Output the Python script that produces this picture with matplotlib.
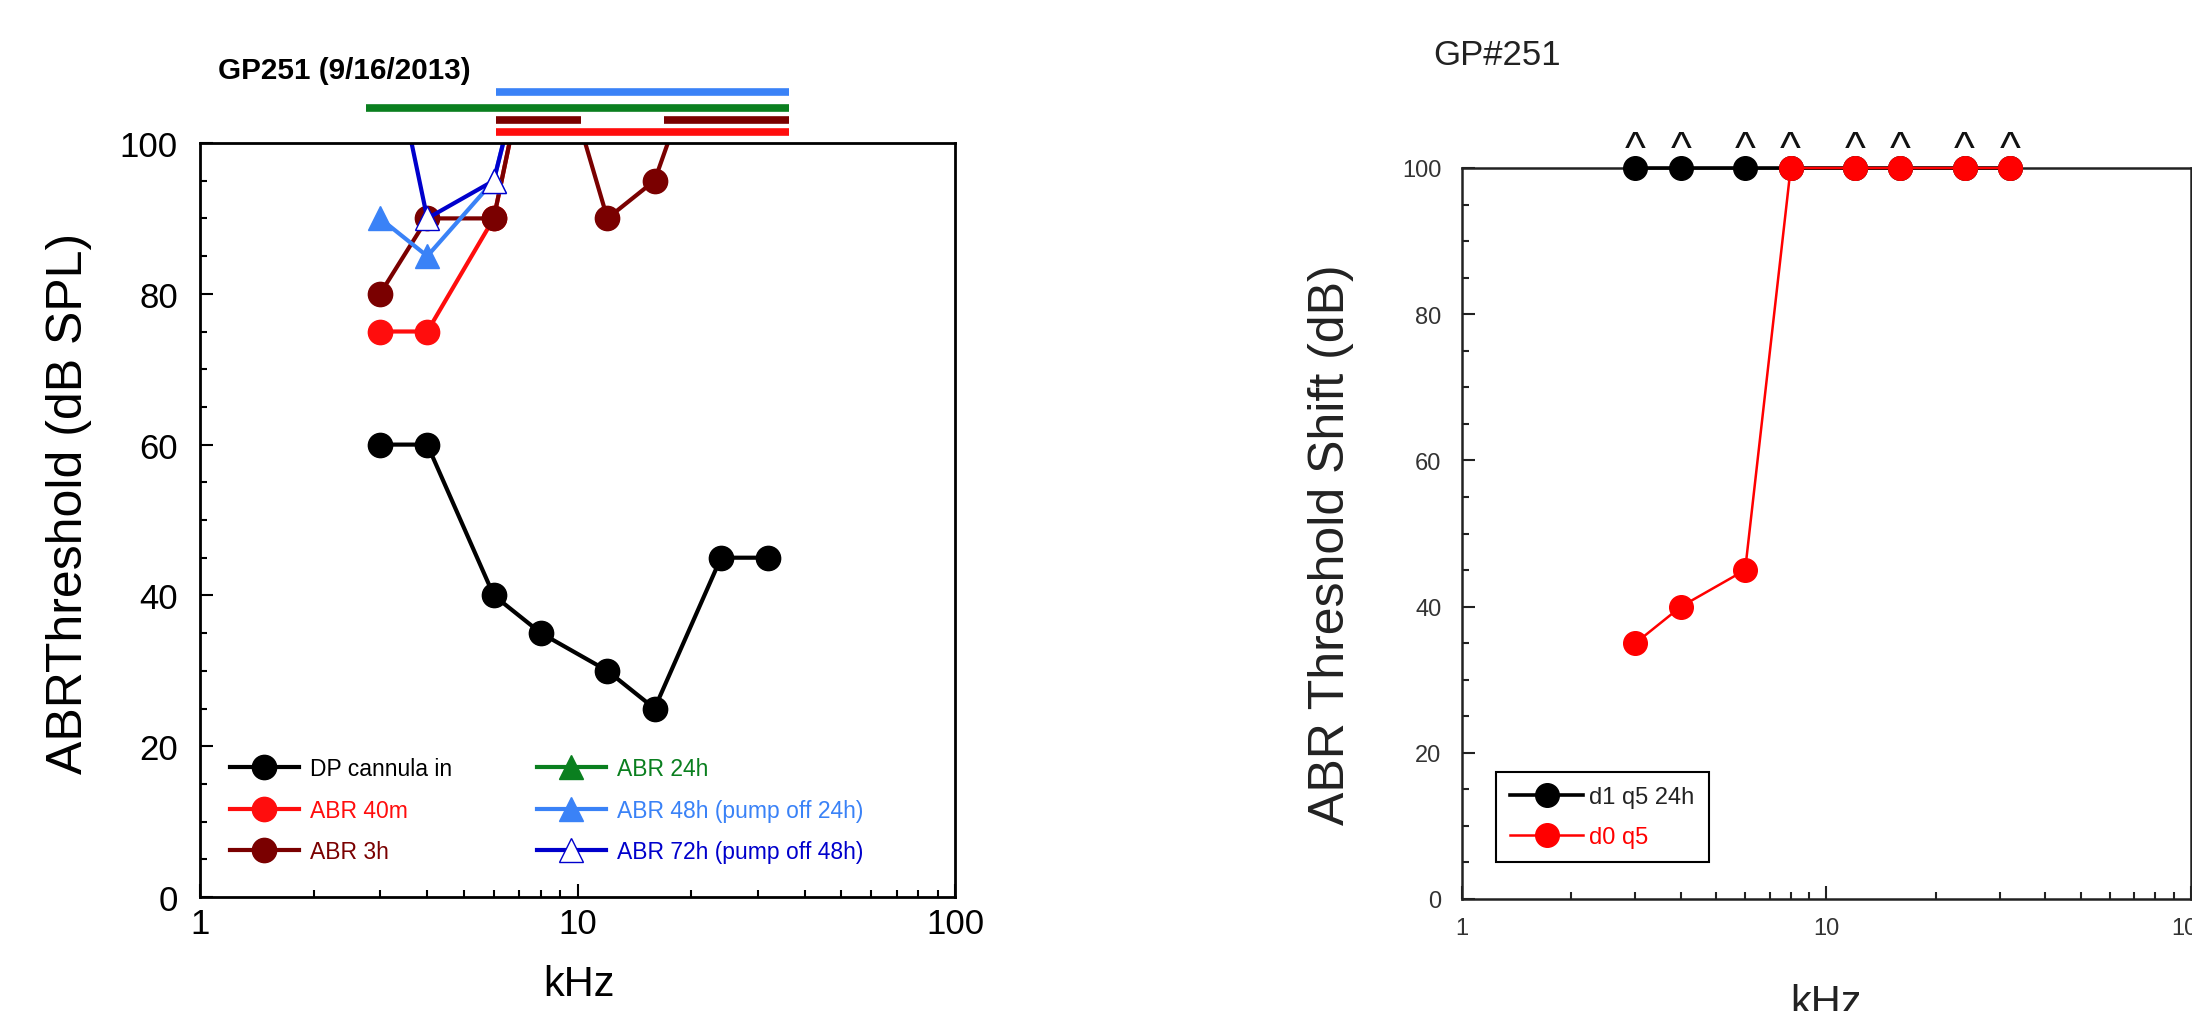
import matplotlib
matplotlib.use('Agg')
import matplotlib.pyplot as plt
from matplotlib.ticker import MultipleLocator, NullFormatter, LogLocator, FixedLocator, FixedFormatter

plt.rcParams['font.family'] = ['Liberation Sans', 'DejaVu Sans']

# ---------------- data: left panel ----------------
freqs = [3, 4, 6, 8, 12, 16, 24, 32]
dp_cannula_in = [60, 60, 40, 35, 30, 25, 45, 45]
abr_40m = [75, 75, 90, 120, 120, 120, 120, 120]
abr_3h = [80, 90, 90, 120, 90, 95, 120, 120]
abr_24h = [120, 120, 120, 120, 120, 120, 120, 120]
abr_48h = [90, 85, 95, 120, 120, 120, 120, 120]
abr_72h = [120, 90, 95, 120, 120, 120, 120, 120]

# "no response" bars drawn above the axis (start kHz, end kHz)
nr_40m = [(6.1, 36.3)]
nr_3h = [(6.1, 10.2), (16.9, 36.3)]
nr_24h = [(2.75, 36.3)]
nr_48h = [(6.1, 36.3)]
nr_levels = {'40m': 101.5, '3h': 103.0, '24h': 104.6, '48h': 106.7}

x_ticks = [1, 10, 100]
x_tick_labels = ['1', '10', '100']
y_ticks = [0, 20, 40, 60, 80, 100]
y_tick_labels = ['0', '20', '40', '60', '80', '100']

# ---------------- data: right panel ----------------
shift_freqs = [3, 4, 6, 8, 12, 16, 24, 32]
d1_q5_24h = [100, 100, 100, 100, 100, 100, 100, 100]
d0_q5 = [35, 40, 45, 100, 100, 100, 100, 100]

C_BLACK = 'black'
C_RED = '#ff0d0d'
C_DRED = '#7a0000'
C_GREEN = '#0a7f1f'
C_LBLUE = '#3a82f7'
C_DBLUE = '#0000cc'

W, H = 2192, 1012
fig = plt.figure(figsize=(W / 100, H / 100), dpi=100)

def px_axes(x0, x1, ytop, ybot):
    return fig.add_axes([x0 / W, 1 - ybot / H, (x1 - x0) / W, (ybot - ytop) / H])

# ================= left panel =================
ax = px_axes(200, 955, 144, 898)
lw = 3.0
ms = 17.5
ax.plot(freqs, dp_cannula_in, '-o', color=C_BLACK, lw=lw, ms=ms, label='DP cannula in')
ax.plot(freqs, abr_40m, '-o', color=C_RED, lw=lw, ms=ms, label='ABR 40m')
ax.plot(freqs, abr_3h, '-o', color=C_DRED, lw=lw, ms=ms, label='ABR 3h')
ax.plot(freqs, abr_24h, '-^', color=C_GREEN, lw=lw, ms=17, label='ABR 24h')
ax.plot(freqs, abr_48h, '-^', color=C_LBLUE, lw=lw, ms=17, label='ABR 48h (pump off 24h)')
ax.plot(freqs, abr_72h, '-^', color=C_DBLUE, lw=lw, ms=17, mfc='white',
        mec=C_DBLUE, mew=1.0, label='ABR 72h (pump off 48h)')

for segs, key, col in [(nr_40m, '40m', C_RED), (nr_3h, '3h', C_DRED),
                       (nr_24h, '24h', C_GREEN), (nr_48h, '48h', C_LBLUE)]:
    for a, b in segs:
        ax.hlines(nr_levels[key], a, b, colors=col, lw=5.5, clip_on=False, capstyle='butt')

ax.set_xscale('log')
ax.set_xlim(1, 100)
ax.set_ylim(0, 100)
ax.xaxis.set_major_locator(FixedLocator(x_ticks))
ax.xaxis.set_major_formatter(FixedFormatter(x_tick_labels))
ax.xaxis.set_minor_locator(LogLocator(base=10, subs=[2, 3, 4, 5, 6, 7, 8, 9]))
ax.xaxis.set_minor_formatter(NullFormatter())
ax.yaxis.set_major_locator(FixedLocator(y_ticks))
ax.yaxis.set_major_formatter(FixedFormatter(y_tick_labels))
ax.yaxis.set_minor_locator(MultipleLocator(5))
ax.tick_params(which='both', direction='in', top=False, right=False, width=1.5)
ax.tick_params(which='major', length=9.5, labelsize=25)
ax.tick_params(which='minor', length=5)
ax.tick_params(axis='y', pad=16)
ax.tick_params(axis='x', pad=7)
for s in ax.spines.values():
    s.set_linewidth(2.0)

leg = ax.legend(loc='upper left', bbox_to_anchor=(0.0397, 0.186), ncol=2,
                frameon=False, fontsize=16.5, handlelength=3.0, handletextpad=0.5,
                columnspacing=3.7, labelspacing=0.82, borderpad=0, borderaxespad=0,
                numpoints=1)
for txt, line in zip(leg.get_texts(), leg.get_lines()):
    txt.set_color(line.get_color())

fig.text(218 / W, 1 - 79 / H, 'GP251 (9/16/2013)', fontsize=21.3, fontweight='bold',
         ha='left', va='baseline')
fig.text(69 / W, 1 - 503 / H, 'ABRThreshold (dB SPL)', fontsize=36, rotation=90,
         ha='center', va='center')
fig.text(579 / W, 1 - 996 / H, 'kHz', fontsize=30, ha='center', va='baseline')

# ================= right panel =================
ax2 = px_axes(1461.5, 2190.5, 169, 900)
ax2.plot(shift_freqs, d1_q5_24h, '-o', color=C_BLACK, lw=2.6, ms=17, clip_on=False,
         label='d1 q5 24h', zorder=3)
ax2.plot(shift_freqs, d0_q5, '-o', color='#ff0000', lw=1.8, ms=17, clip_on=False,
         label='d0 q5', zorder=4)

# carets above points that reached the 100 dB limit
for f, a, b in zip(shift_freqs, d1_q5_24h, d0_q5):
    if max(a, b) >= 100:
        ax2.annotate('^', xy=(f, 100), xytext=(0, 4.5), textcoords='offset points',
                     ha='center', va='baseline', fontsize=32, color='#111111',
                     annotation_clip=False)

ax2.set_xscale('log')
ax2.set_xlim(1, 100)
ax2.set_ylim(0, 100)
ax2.xaxis.set_major_locator(FixedLocator(x_ticks))
ax2.xaxis.set_major_formatter(FixedFormatter(x_tick_labels))
ax2.xaxis.set_minor_locator(LogLocator(base=10, subs=[2, 3, 4, 5, 6, 7, 8, 9]))
ax2.xaxis.set_minor_formatter(NullFormatter())
ax2.yaxis.set_major_locator(FixedLocator(y_ticks))
ax2.yaxis.set_major_formatter(FixedFormatter(y_tick_labels))
ax2.yaxis.set_minor_locator(MultipleLocator(5))
ax2.tick_params(which='both', direction='in', top=False, right=False, width=1.5,
                colors='#222222', labelcolor='#333333')
ax2.tick_params(which='major', length=9.5, labelsize=17)
ax2.tick_params(which='minor', length=5)
ax2.tick_params(axis='y', pad=14.5)
ax2.tick_params(axis='x', pad=13)
for s in ax2.spines.values():
    s.set_linewidth(1.8)
    s.set_color('#222222')

leg2 = ax2.legend(loc='upper left', bbox_to_anchor=(0.0473, 0.1737), frameon=True,
                  fancybox=False, edgecolor='black', framealpha=1, fontsize=17,
                  handlelength=3.1, handletextpad=0.25, labelspacing=0.75,
                  borderpad=0.6, borderaxespad=0, numpoints=1)
leg2.get_frame().set_linewidth(1.5)
for txt, line in zip(leg2.get_texts(), leg2.get_lines()):
    c = line.get_color()
    txt.set_color('#222222' if c == C_BLACK else c)

fig.text(1433 / W, 1 - 65 / H, 'GP#251', fontsize=25, color='#222222',
         ha='left', va='baseline')
fig.text(1331 / W, 1 - 545 / H, 'ABR Threshold Shift (dB)', fontsize=36, rotation=90,
         ha='center', va='center', color='#222222')
fig.text(1826 / W, 1 - 1015 / H, 'kHz', fontsize=30, ha='center', va='baseline',
         color='#222222')

fig.savefig('out.png', dpi=100)
